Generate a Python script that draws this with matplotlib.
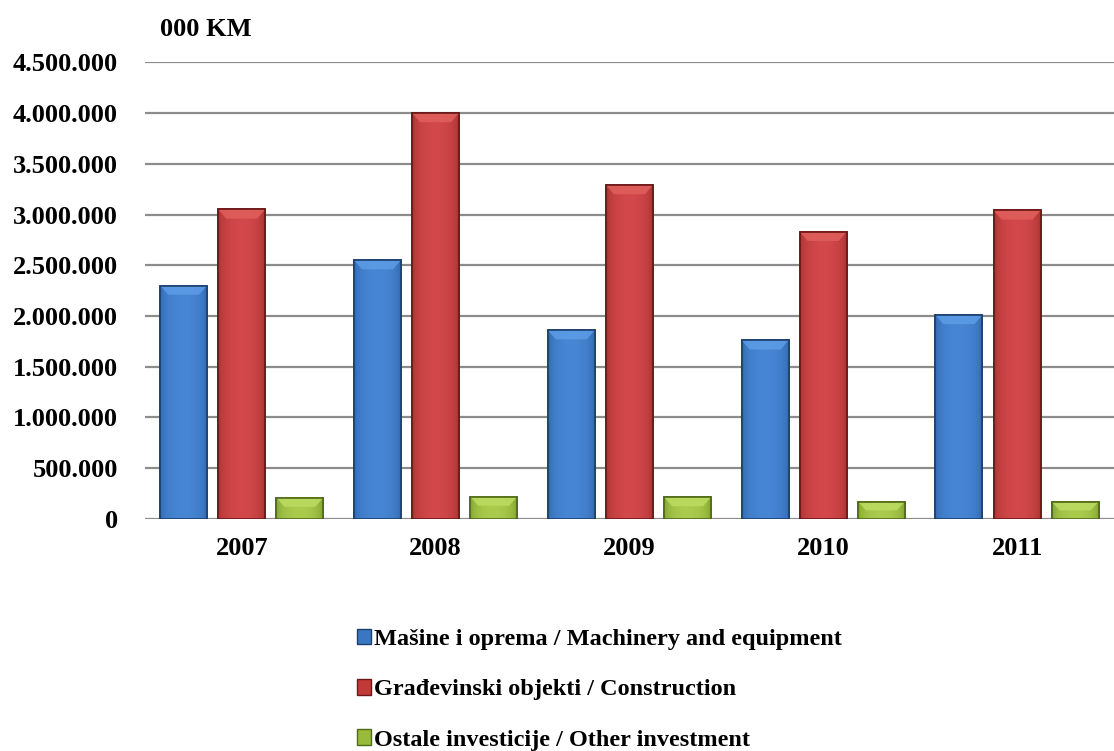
import matplotlib.pyplot as plt
import numpy as np
from matplotlib.patches import Patch, Polygon, Rectangle
from matplotlib.colors import to_rgb

plt.rcParams['font.family'] = ['Liberation Serif', 'DejaVu Serif']
plt.rcParams['font.weight'] = 'bold'

years = ['2007', '2008', '2009', '2010', '2011']
machinery = [2300000, 2550000, 1860000, 1760000, 2010000]
construction = [3050000, 4000000, 3290000, 2830000, 3040000]
other = [210000, 220000, 215000, 170000, 170000]
labels = ['Mašine i oprema / Machinery and equipment',
          'Građevinski objekti / Construction',
          'Ostale investicije / Other investment']
yticks = [0, 500000, 1000000, 1500000, 2000000, 2500000, 3000000, 3500000, 4000000, 4500000]

colors = ['#3a77c3', '#c13a38', '#98bb3c']
lights = ['#4786d4', '#d3484a', '#aacb4c']
darks = ['#2d62a6', '#9c2d2b', '#789a2a']
bevel = ['#5c9de6', '#e0605c', '#bcdc62']
edges = ['#1d3f6e', '#6a1818', '#4f6a18']

fig = plt.figure(figsize=(11.14, 7.51), dpi=100)
ax = fig.add_axes([0.130, 0.309, 0.870, 0.608])

x = np.arange(len(years))
w = 0.242
off = 0.30
series = [machinery, construction, other]
for i, vals in enumerate(series):
    bars = ax.bar(x + (i - 1) * off, vals, width=w, color=colors[i],
                  edgecolor=edges[i], linewidth=1.2, zorder=3)
    # horizontal shading, a bit lighter in the middle
    t = np.linspace(0, 1, 64)
    prof = np.sin(np.pi * t) ** 0.4
    c0 = np.array(to_rgb(darks[i]))
    c1 = np.array(to_rgb(lights[i]))
    grad = (c0[None, :] * (1 - prof[:, None]) + c1[None, :] * prof[:, None])[None, :, :]
    for b in bars:
        bx, by = b.get_x(), b.get_y()
        bw, bh = b.get_width(), b.get_height()
        im = ax.imshow(grad, extent=[bx, bx + bw, by, by + bh], aspect='auto',
                       zorder=3.5, interpolation='bilinear')
        im.set_clip_path(b)
        # top bevel
        dx = bw * 0.17
        dy = min(bh * 0.5, 90000)
        top = by + bh
        ax.add_patch(Polygon([[bx, top], [bx + bw, top], [bx + bw - dx, top - dy],
                              [bx + dx, top - dy]], closed=True,
                             facecolor=bevel[i], edgecolor='none', alpha=0.85, zorder=3.6))
        ax.add_patch(Rectangle((bx, by), bw, bh, fill=False,
                               edgecolor=edges[i], linewidth=1.2, zorder=3.7))

ax.set_xlim(-0.5, 4.5)
ax.set_ylim(0, 4500000)
ax.set_yticks(yticks)
ax.set_yticklabels(['0' if v == 0 else f'{v:,}'.replace(',', '.') for v in yticks])
ax.set_xticks(x)
ax.set_xticklabels(years)
ax.tick_params(length=0, labelsize=19)
ax.tick_params(axis='y', pad=19.5)
ax.tick_params(axis='x', pad=13)
ax.grid(axis='y', color='#8c8c8c', linewidth=1.6, zorder=0)
for s in ax.spines.values():
    s.set_visible(False)

fig.text(160 / 1114, 1 - 30 / 751, '000 KM', fontsize=19, fontweight='bold',
         va='center', ha='left')

handles = [Patch(facecolor=colors[i], edgecolor=edges[i]) for i in range(3)]
fig.legend(handles, labels, loc='upper left', bbox_to_anchor=(335 / 1114, 1 - 607 / 751),
           frameon=False, fontsize=17.5, handlelength=0.6, handleheight=0.6,
           handletextpad=0.1, labelspacing=1.19)

fig.savefig('out.png', dpi=100)
